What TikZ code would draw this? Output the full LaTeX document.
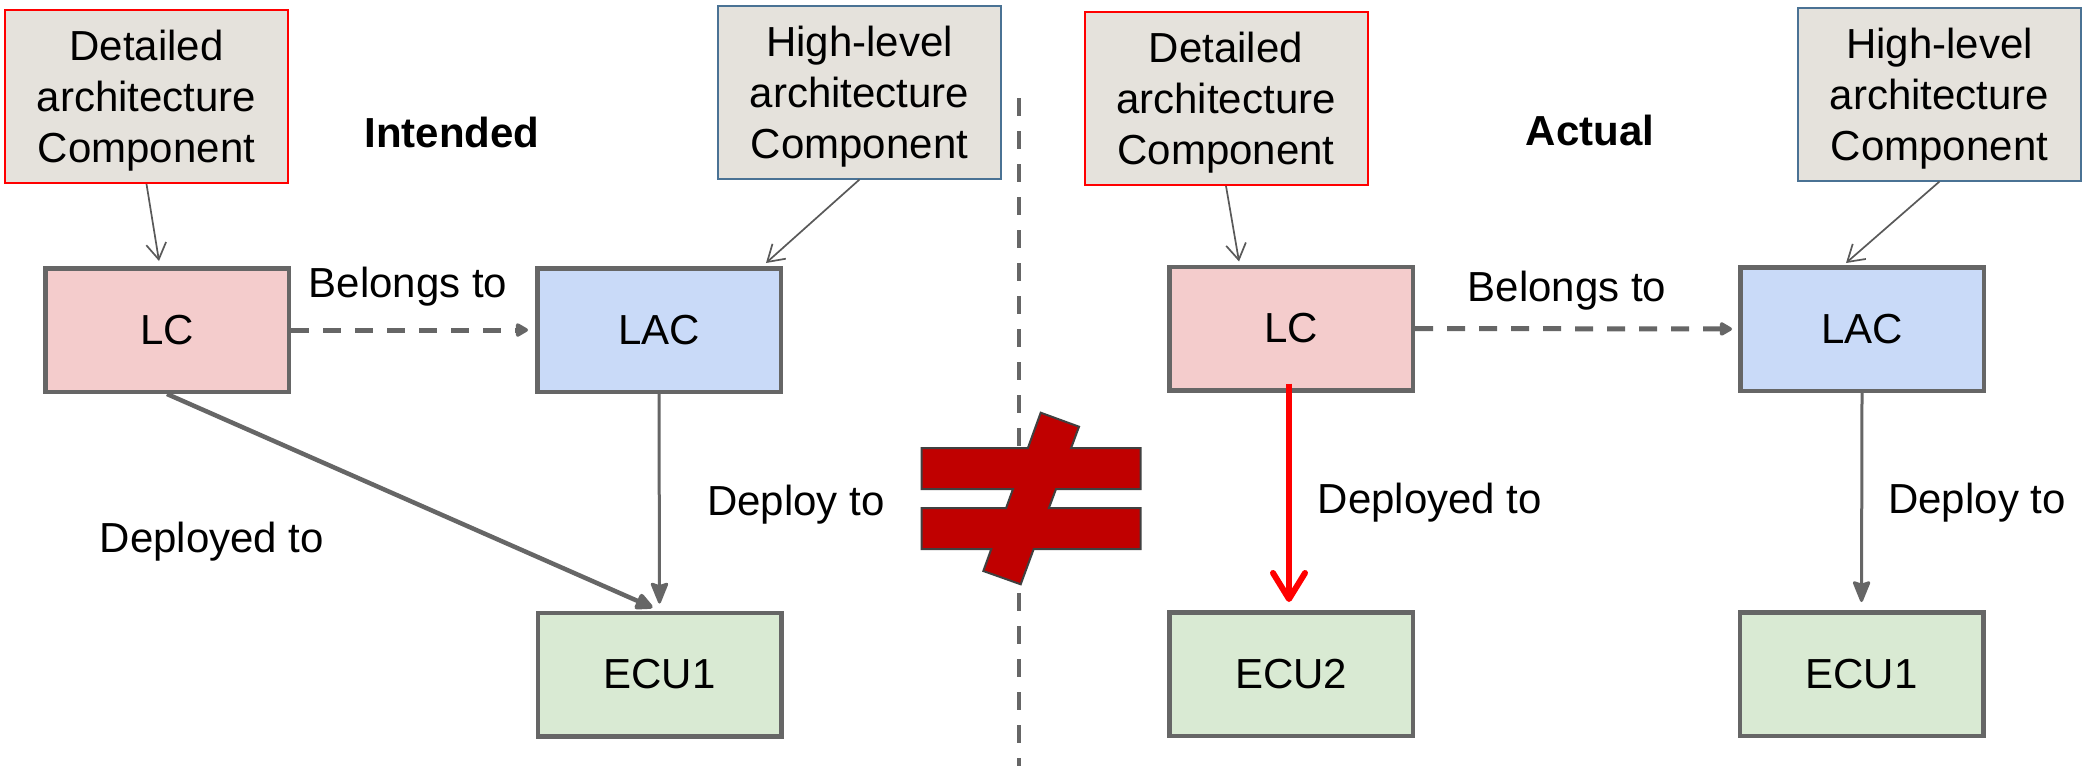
\documentclass[tikz,border=0pt]{standalone}
\usepackage{fontspec}
\setmainfont{Liberation Sans}
\usetikzlibrary{arrows.meta,calc}
\definecolor{boxgray}{HTML}{666666}
\definecolor{thinarrow}{HTML}{595959}
\definecolor{topfill}{HTML}{E5E2DC}
\definecolor{redborder}{HTML}{FF0000}
\definecolor{blueborder}{HTML}{4A7294}
\definecolor{lcfill}{HTML}{F4CCCC}
\definecolor{lacfill}{HTML}{C9DAF8}
\definecolor{ecufill}{HTML}{D9EAD3}
\definecolor{neqred}{HTML}{C00000}
\definecolor{neqedge}{HTML}{404040}
\definecolor{deployred}{HTML}{FF0000}
\begin{document}
\begin{tikzpicture}[x=1pt,y=-1pt,
  basefont/.style={font=\fontsize{42}{51}\selectfont},
  topbox/.style={basefont, draw, line width=2pt, fill=topfill, align=center,
    minimum width=283pt, minimum height=173pt, inner sep=0pt, text depth=0pt},
  detbox/.style={topbox, draw=redborder},
  hlbox/.style={topbox, draw=blueborder},
  elem/.style={basefont, draw=boxgray, line width=4.5pt, minimum width=243.5pt,
    minimum height=123.5pt, inner sep=0pt},
  lcbox/.style={elem, fill=lcfill},
  lacbox/.style={elem, fill=lacfill},
  ecubox/.style={elem, fill=ecufill},
  lbl/.style={basefont, anchor=base, inner sep=0pt},
  titlelbl/.style={lbl, font=\fontsize{42}{51}\selectfont\bfseries},
  typeof/.style={draw=thinarrow, line width=1.7pt,
    -{Straight Barb[length=16pt,width=20pt]}},
  belongs/.style={draw=boxgray, line width=5pt, dash pattern=on 18pt off 14pt,
    -{Triangle[length=14pt,width=15pt,round]}},
  deployed/.style={draw=boxgray, line width=4.5pt,
    -{Triangle[length=20pt,width=18pt,round]}},
  deploy/.style={draw=boxgray, line width=3pt,
    -{Stealth[length=24pt,width=19pt,inset=3pt,round]}},
  wrongdeploy/.style={draw=deployred, line width=6pt,
    -{Straight Barb[length=26pt,width=32pt,round]}},
  divider/.style={draw=boxgray, line width=4pt, dash pattern=on 18pt off 15pt},
  neq/.style={fill=neqred, draw=neqedge, line width=2pt, line join=miter}
]
\fill[white] (0,0) rectangle (2087,766);
\useasboundingbox (0,0) rectangle (2087,766);

% divider
\coordinate (divtop) at (1019,98);
\coordinate (divbot) at (1019,766);
\draw[divider] (divtop) -- (divbot);

% top boxes
\node[detbox] (D1) at (146.5,96.5) {Detailed\\architecture\\Component};
\node[hlbox]  (H1) at (859.5,92) {High-level\\architecture\\Component};
\node[detbox] (D2) at (1226,98.5) {Detailed\\architecture\\Component};
\node[hlbox]  (H2) at (1939.5,94) {High-level\\architecture\\Component};

% element boxes
\node[lcbox]  (LC1)  at (167,330) {LC};
\node[lacbox] (LAC1) at (659,330) {LAC};
\node[ecubox] (ECUa) at (659.5,674.5) {ECU1};
\node[lcbox]  (LC2)  at (1291,328.5) {LC};
\node[lacbox] (LAC2) at (1862,329) {LAC};
\node[ecubox] (ECU2) at (1291,674) {ECU2};
\node[ecubox] (ECUb) at (1861.5,674) {ECU1};

% titles and labels
\node[titlelbl] (intended) at (452,147) {Intended};
\node[titlelbl] (actual) at (1590,145) {Actual};
\node[lbl] (bel1) at (408,297) {Belongs to};
\node[lbl] (bel2) at (1567,301) {Belongs to};
\node[lbl] (dep1) at (212,552) {Deployed to};
\node[lbl] (dpl1) at (796,515) {Deploy to};
\node[lbl] (dep2) at (1430,513) {Deployed to};
\node[lbl] (dpl2) at (1977,513) {Deploy to};

% connectors
\draw[typeof] (D1.south) -- ($(LC1.north)+(-8,-5)$);
\draw[typeof] (H1.south) -- ($(LAC1.north)+(107,-3)$);
\draw[typeof] (D2.south) -- ($(LC2.north)+(-52,-3)$);
\draw[typeof] (H2.south) -- ($(LAC2.north)+(-16,-2)$);

\draw[belongs] (LC1.east) -- ($(LAC1.west)+(-7,0)$);
\draw[belongs] (LC2.east) -- ($(LAC2.west)+(-6,0)$);

\draw[deployed] (LC1.south) -- ($(ECUa.north)+(-7,-3)$);
\draw[deploy] (LAC1.south) -- ($(ECUa.north)+(0,-7)$);
\draw[deploy] (LAC2.south) -- ($(ECUb.north)+(0,-8)$);
\draw[wrongdeploy] ($(LC2.south)+(-2,-9)$) -- ($(ECU2.north)+(-2,-8)$);

% not-equal sign
\draw[neq] (1040.7,412.7) -- (1079,426.7) -- (1071.1,448) -- (1140.7,448)
  -- (1140.7,489) -- (1056,489) -- (1048.9,508) -- (1140.7,508)
  -- (1140.7,549) -- (1033.7,549) -- (1020.7,584.3) -- (983.3,571)
  -- (991.3,549) -- (921.7,549) -- (921.7,508) -- (1006.1,508)
  -- (1013,489) -- (921.7,489) -- (921.7,448) -- (1027.9,448) -- cycle;
\end{tikzpicture}
\end{document}
